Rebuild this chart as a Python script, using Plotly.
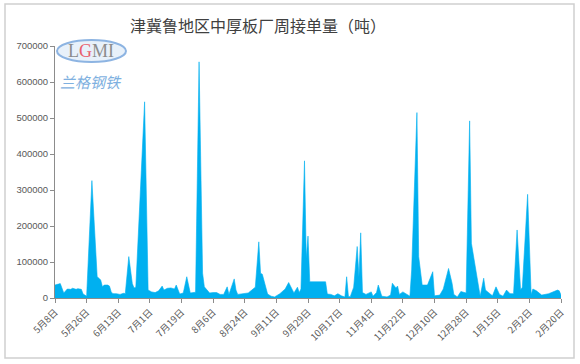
import plotly.graph_objects as go

# ---- data ----
dates = [
    "2019-05-08", "2019-05-10", "2019-05-11", "2019-05-13", "2019-05-14", "2019-05-15",
    "2019-05-17", "2019-05-18", "2019-05-20", "2019-05-21", "2019-05-23", "2019-05-24",
    "2019-05-25", "2019-05-26", "2019-05-29", "2019-06-01", "2019-06-02", "2019-06-03",
    "2019-06-04", "2019-06-05", "2019-06-07", "2019-06-08", "2019-06-09", "2019-06-10",
    "2019-06-12", "2019-06-14", "2019-06-16", "2019-06-17", "2019-06-19", "2019-06-21",
    "2019-06-22", "2019-06-23", "2019-06-28", "2019-06-30", "2019-07-02", "2019-07-04",
    "2019-07-06", "2019-07-08", "2019-07-09", "2019-07-11", "2019-07-13", "2019-07-15",
    "2019-07-16", "2019-07-18", "2019-07-20", "2019-07-22", "2019-07-24", "2019-07-26",
    "2019-07-27", "2019-07-29", "2019-07-31", "2019-08-01", "2019-08-04", "2019-08-06",
    "2019-08-08", "2019-08-10", "2019-08-12", "2019-08-14", "2019-08-15", "2019-08-18",
    "2019-08-19", "2019-08-20", "2019-08-23", "2019-08-26", "2019-08-28", "2019-08-30",
    "2019-09-01", "2019-09-02", "2019-09-03", "2019-09-05", "2019-09-06", "2019-09-08",
    "2019-09-10", "2019-09-13", "2019-09-16", "2019-09-18", "2019-09-20", "2019-09-21",
    "2019-09-23", "2019-09-24", "2019-09-25", "2019-09-27", "2019-09-28", "2019-09-29",
    "2019-09-30", "2019-10-09", "2019-10-10", "2019-10-12", "2019-10-14", "2019-10-16",
    "2019-10-18", "2019-10-20", "2019-10-21", "2019-10-22", "2019-10-23", "2019-10-25",
    "2019-10-27", "2019-10-28", "2019-10-29", "2019-10-30", "2019-11-01", "2019-11-04",
    "2019-11-05", "2019-11-07", "2019-11-08", "2019-11-10", "2019-11-13", "2019-11-15",
    "2019-11-16", "2019-11-18", "2019-11-19", "2019-11-20", "2019-11-22", "2019-11-24",
    "2019-11-26", "2019-11-27", "2019-11-30", "2019-12-01", "2019-12-03", "2019-12-06",
    "2019-12-08", "2019-12-09", "2019-12-10", "2019-12-13", "2019-12-15", "2019-12-18",
    "2019-12-20", "2019-12-21", "2019-12-23", "2019-12-25", "2019-12-28", "2019-12-30",
    "2019-12-31", "2020-01-03", "2020-01-05", "2020-01-07", "2020-01-08", "2020-01-10",
    "2020-01-12", "2020-01-14", "2020-01-16", "2020-01-18", "2020-01-20", "2020-01-22",
    "2020-01-24", "2020-01-26", "2020-01-28", "2020-01-29", "2020-02-01", "2020-02-03",
    "2020-02-04", "2020-02-06", "2020-02-09", "2020-02-13", "2020-02-18", "2020-02-19",
    "2020-02-20",
]
orders = [
    36000, 38000, 40000, 14000, 20000, 25000,
    24000, 27000, 24000, 26000, 24000, 11000,
    8000, 5000, 326000, 59000, 55000, 50000,
    31000, 36000, 36000, 33000, 17000, 12000,
    12000, 10000, 13000, 12000, 115000, 40000,
    28000, 30000, 545000, 22000, 17000, 15000,
    20000, 33000, 22000, 27000, 28000, 25000,
    36000, 11000, 14000, 59000, 14000, 15000,
    16000, 656000, 69000, 31000, 14000, 15000,
    15000, 10000, 10000, 31000, 10000, 53000,
    22000, 10000, 12000, 14000, 22000, 30000,
    156000, 69000, 66000, 25000, 11000, 5000,
    3000, 12000, 25000, 43000, 22000, 14000,
    30000, 15000, 25000, 381000, 110000, 172000,
    45000, 45000, 11000, 10000, 6000, 12000,
    6000, 3000, 59000, 5000, 3000, 30000,
    143000, 59000, 181000, 15000, 10000, 17000,
    5000, 15000, 36000, 5000, 3000, 8000,
    41000, 28000, 33000, 10000, 17000, 12000,
    5000, 78000, 515000, 115000, 36000, 36000,
    64000, 73000, 6000, 8000, 25000, 82000,
    41000, 10000, 3000, 18000, 14000, 492000,
    152000, 59000, 5000, 55000, 22000, 14000,
    6000, 31000, 10000, 5000, 22000, 12000,
    12000, 189000, 22000, 30000, 288000, 10000,
    25000, 20000, 8000, 12000, 22000, 20000,
    8000,
]

tick_dates = [
    "2019-05-08", "2019-05-26", "2019-06-13", "2019-07-01", "2019-07-19", "2019-08-06",
    "2019-08-24", "2019-09-11", "2019-09-29", "2019-10-17", "2019-11-04", "2019-11-22",
    "2019-12-10", "2019-12-28", "2020-01-15", "2020-02-02", "2020-02-20",
]
tick_labels = [
    "5月8日", "5月26日", "6月13日", "7月1日", "7月19日", "8月6日",
    "8月24日", "9月11日", "9月29日", "10月17日", "11月4日", "11月22日",
    "12月10日", "12月28日", "1月15日", "2月2日", "2月20日",
]
y_ticks = [0, 100000, 200000, 300000, 400000, 500000, 600000, 700000]

title_text = "津冀鲁地区中厚板厂周接单量（吨）"
logo_text = "兰格钢铁"

W, H = 580, 364
L, R, T, B = 55, 19, 46, 66
pw, ph = W - L - R, H - T - B


def px(x):
    return (x - L) / pw


def py(y):
    return (H - B - y) / ph


CJK = "Noto Sans CJK SC"
AXIS_GREY = "#8c8c8c"
LABEL_GREY = "#595959"

fig = go.Figure()
fig.add_trace(go.Scatter(
    x=dates, y=orders, mode="lines", fill="tozeroy",
    line=dict(color="#00B0F0", width=0.6),
    fillcolor="#00B0F0", hoverinfo="x+y", showlegend=False,
))

fig.update_layout(
    width=W, height=H,
    margin=dict(l=L, r=R, t=T, b=B),
    paper_bgcolor="white", plot_bgcolor="white",
    xaxis=dict(
        type="date", range=[tick_dates[0], tick_dates[-1]],
        tickmode="array", tickvals=tick_dates, ticktext=tick_labels,
        tickangle=-45, ticks="outside", ticklen=4, tickcolor=AXIS_GREY,
        showline=True, linecolor=AXIS_GREY, linewidth=1,
        showgrid=False, zeroline=False,
        tickfont=dict(family=CJK, size=9.5, color=LABEL_GREY),
    ),
    yaxis=dict(
        range=[0, 700000], tickmode="array", tickvals=y_ticks,
        ticktext=[str(v) for v in y_ticks],
        ticks="outside", ticklen=4, tickcolor=AXIS_GREY,
        showline=True, linecolor=AXIS_GREY, linewidth=1,
        showgrid=False, zeroline=False,
        tickfont=dict(family="Liberation Sans", size=9.5, color=LABEL_GREY),
    ),
    shapes=[
        dict(type="rect", xref="paper", yref="paper",
             x0=px(5), x1=px(574), y0=py(358), y1=py(4),
             line=dict(color="#d0d0d0", width=1.5), fillcolor="rgba(0,0,0,0)",
             layer="above"),
        dict(type="circle", xref="paper", yref="paper",
             x0=px(57), x1=px(126), y0=py(62), y1=py(40),
             line=dict(color="#8DB4E2", width=2), fillcolor="rgba(190,215,240,0.35)",
             layer="above"),
    ],
    annotations=[
        dict(xref="paper", yref="paper", x=px(258), y=py(25),
             xanchor="center", yanchor="middle", showarrow=False,
             text=title_text,
             font=dict(family=CJK, size=16, color="#404040")),
        dict(xref="paper", yref="paper", x=px(91), y=py(51),
             xanchor="center", yanchor="middle", showarrow=False,
             text="<span style='color:#8c8c8c'>L</span><span style='color:#e8606e'>G</span>"
                  "<span style='color:#8c8c8c'>MI</span>",
             font=dict(family="Liberation Serif", size=18)),
        dict(xref="paper", yref="paper", x=px(91), y=py(81.5),
             xanchor="center", yanchor="middle", showarrow=False,
             text="<i>" + logo_text + "</i>",
             font=dict(family=CJK, size=15, color="#7EB0E0")),
    ],
)

fig.write_html("out.html", config={"displayModeBar": False},
               post_script="document.body.style.margin='0';")
